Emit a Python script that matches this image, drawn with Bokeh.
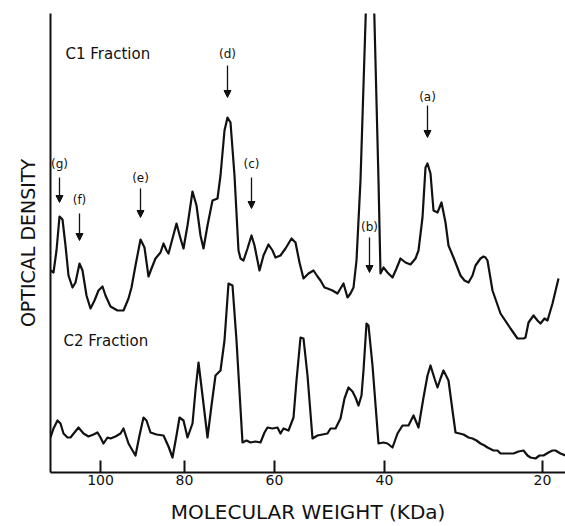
from bokeh.plotting import figure
from bokeh.models import ColumnDataSource, FixedTicker, Arrow, NormalHead
from bokeh.core.properties import value
from bokeh.embed import file_html
from bokeh.resources import INLINE

# Densitometric scans (x = migration distance along the gel, arbitrary units;
# y = optical density, arbitrary units)
c1_mobility = [0, 3, 6, 9, 12, 15, 18, 22, 25, 29,
               32, 36, 40, 44, 48, 52, 55, 60, 67, 73,
               78, 81, 85, 90, 94, 98, 101, 105, 110, 113,
               116, 118, 122, 126, 130, 133, 137, 142, 146, 150,
               153, 157, 162, 167, 170, 174, 177, 180, 184, 188,
               190, 193, 197, 201, 204, 209, 213, 218, 222, 225,
               230, 235, 241, 245, 249, 253, 258, 263, 267, 270,
               274, 277, 282, 287, 290, 293, 297, 300, 303, 306,
               310, 320, 328, 330, 333, 337, 342, 346, 350, 355,
               360, 365, 368, 372, 375, 377, 380, 383, 387, 391,
               395, 398, 403, 410, 414, 418, 422, 425, 430, 433,
               435, 437, 442, 450, 460, 467, 473, 475, 478, 483,
               487, 490, 494, 497, 502, 508]
c1_density = [202, 200, 222, 256, 253, 227, 197, 185, 190, 209,
              202, 177, 164, 172, 182, 186, 177, 166, 162, 162,
              174, 185, 207, 233, 225, 196, 204, 214, 220, 229,
              222, 219, 234, 249, 234, 224, 247, 281, 267, 237,
              224, 247, 272, 274, 297, 342, 355, 350, 297, 222,
              214, 212, 224, 237, 227, 202, 217, 228, 222, 215,
              217, 224, 234, 230, 210, 194, 199, 202, 196, 192,
              185, 184, 182, 179, 184, 189, 175, 179, 185, 212,
              292, 609, 292, 199, 205, 200, 195, 204, 214, 210,
              208, 214, 222, 255, 305, 309, 299, 262, 260, 270,
              250, 227, 215, 197, 192, 190, 197, 207, 214, 216,
              215, 212, 182, 159, 144, 134, 134, 135, 150, 157,
              152, 149, 154, 152, 169, 194]

c2_mobility = [0, 3, 7, 10, 13, 17, 20, 24, 28, 33,
               38, 43, 47, 50, 53, 57, 60, 65, 70, 73,
               78, 82, 85, 89, 93, 96, 100, 106, 113, 118,
               122, 126, 129, 133, 137, 142, 145, 148, 152, 157,
               161, 165, 170, 174, 178, 182, 186, 192, 196, 200,
               205, 210, 214, 217, 222, 227, 230, 233, 238, 243,
               246, 250, 253, 257, 262, 267, 272, 277, 280, 285,
               290, 294, 298, 302, 305, 308, 311, 313, 316, 318,
               322, 328, 333, 337, 342, 347, 352, 358, 363, 368,
               373, 377, 380, 384, 387, 390, 393, 398, 402, 405,
               409, 413, 418, 422, 426, 430, 434, 437, 443, 447,
               450, 457, 463, 468, 473, 477, 480, 485, 489, 493,
               498, 502, 505, 510, 515]
c2_density = [35, 44, 52, 49, 39, 35, 35, 40, 45, 39,
              36, 38, 40, 35, 29, 35, 34, 36, 39, 44,
              29, 22, 17, 37, 55, 52, 40, 38, 37, 26,
              15, 37, 55, 52, 35, 49, 82, 110, 77, 35,
              67, 97, 102, 132, 189, 187, 132, 30, 32, 30,
              31, 30, 40, 45, 44, 45, 39, 44, 42, 55,
              92, 135, 134, 97, 34, 37, 38, 39, 44, 44,
              54, 74, 85, 81, 75, 67, 77, 102, 149, 147,
              107, 29, 30, 29, 25, 39, 47, 47, 57, 45,
              75, 97, 107, 94, 85, 94, 102, 92, 62, 40,
              39, 38, 35, 34, 32, 29, 27, 25, 22, 22,
              19, 19, 19, 21, 22, 17, 15, 14, 17, 17,
              20, 22, 22, 19, 17]

# Molecular-weight calibration of the gel (tick positions in migration units)
mw_tick_pos = [50, 134, 224, 334, 492]
mw_tick_labels = ["100", "80", "60", "40", "20"]

# Marked bands: name, position, label height, arrow start, arrow end
band_names = ["(a)", "(b)", "(c)", "(d)", "(e)", "(f)", "(g)"]
band_pos = [377, 319, 201, 177, 90, 29, 9]
band_label_y = [376, 246, 309, 419, 295, 273, 309]
band_arrow_top = [367, 235, 295, 407, 284, 259, 295]
band_arrow_tip = [335, 200, 264, 375, 255, 232, 270]

fraction_names = ["C1 Fraction", "C2 Fraction"]
fraction_x = [15, 13]
fraction_y = [419, 132]

FONT = "DejaVu Sans"
INK = "#111111"

p = figure(width=565, height=526, x_range=(0, 515), y_range=(0, 459),
           output_backend="svg", toolbar_location=None,
           min_border_left=50, min_border_right=0, min_border_top=13,
           min_border_bottom=54)
p.outline_line_color = None
p.xgrid.visible = False
p.ygrid.visible = False
p.background_fill_color = "white"
p.border_fill_color = "white"

# traces
p.line(c1_mobility, c1_density, line_color=INK, line_width=2.2, line_join="round")
p.line(c2_mobility, c2_density, line_color=INK, line_width=2.2, line_join="round")

# x axis
xa = p.xaxis[0]
xa.ticker = FixedTicker(ticks=mw_tick_pos)
xa.major_label_overrides = {t: l for t, l in zip(mw_tick_pos, mw_tick_labels)}
xa.minor_tick_line_color = None
xa.major_tick_in = 12
xa.major_tick_out = 0
xa.major_tick_line_width = 2
xa.major_tick_line_color = INK
xa.axis_line_width = 2
xa.axis_line_color = INK
xa.major_label_standoff = 2
xa.major_label_text_font = FONT
xa.major_label_text_font_size = "14px"
xa.major_label_text_color = INK
xa.axis_label = "MOLECULAR WEIGHT (KDa)"
xa.axis_label_text_font = FONT
xa.axis_label_text_font_style = "normal"
xa.axis_label_text_font_size = "20px"
xa.axis_label_text_color = INK
xa.axis_label_text_line_height = 0.9
xa.axis_label_standoff = 12

# y axis
ya = p.yaxis[0]
ya.ticker = FixedTicker(ticks=[])
ya.minor_tick_line_color = None
ya.major_tick_line_color = None
ya.major_tick_in = 0
ya.major_tick_out = 0
ya.major_label_standoff = 0
ya.major_label_text_font_size = "0px"
ya.axis_line_width = 2
ya.axis_line_color = INK
ya.axis_label = "OPTICAL DENSITY"
ya.axis_label_text_font = FONT
ya.axis_label_text_font_style = "normal"
ya.axis_label_text_font_size = "19px"
ya.axis_label_text_color = INK
ya.axis_label_standoff = 12

# fraction labels
p.text(x=fraction_x, y=fraction_y, text=fraction_names,
       text_font=value(FONT), text_font_size="15px", text_color=INK,
       text_align="left", text_baseline="middle")

# band labels and arrows
p.text(x=band_pos, y=band_label_y, text=band_names,
       text_font=value(FONT), text_font_size="12px", text_color=INK,
       text_align="center", text_baseline="middle")
arrow_src = ColumnDataSource(dict(x0=band_pos, y0=band_arrow_top,
                                  x1=band_pos, y1=band_arrow_tip))
p.add_layout(Arrow(source=arrow_src, x_start="x0", y_start="y0",
                   x_end="x1", y_end="y1", line_width=1.3, line_color=INK,
                   end=NormalHead(size=7, fill_color=INK, line_color=INK)))

open("out.html", "w").write(file_html(p, INLINE))
